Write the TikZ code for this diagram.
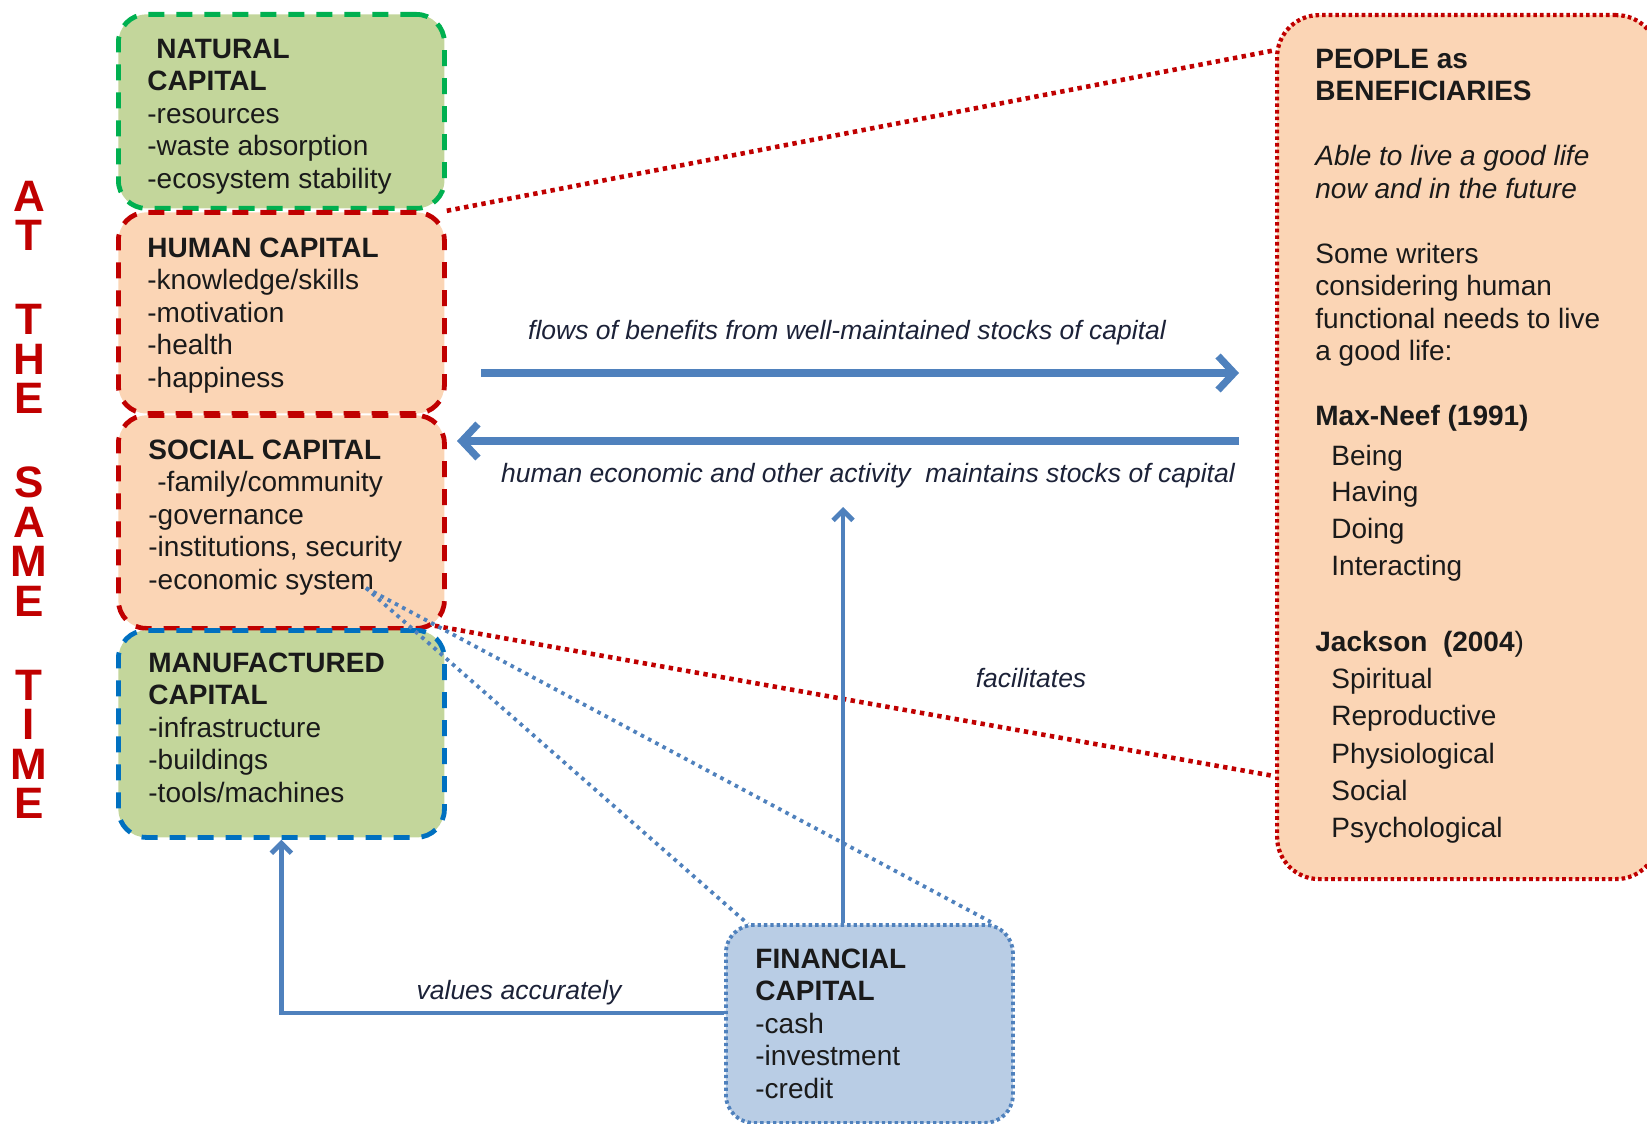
\documentclass[tikz,border=0pt]{standalone}
\usepackage{fontspec}
\setmainfont{Liberation Sans}
\usetikzlibrary{arrows.meta,calc}

\definecolor{natgreen}{HTML}{C3D69B}
\definecolor{edgegreen}{HTML}{00B050}
\definecolor{peach}{HTML}{FBD5B5}
\definecolor{darkred}{HTML}{C00000}
\definecolor{edgeblue}{HTML}{0070C0}
\definecolor{finblue}{HTML}{B9CDE5}
\definecolor{steel}{HTML}{4F81BD}
\definecolor{ink}{HTML}{1A1A1A}
\definecolor{labelink}{HTML}{1C2238}

\begin{document}
\begin{tikzpicture}[x=0.5pt,y=-0.5pt,
  capbox/.style={rectangle, anchor=north west, inner sep=0pt,
    rounded corners=14pt, line width=2.4pt, dash pattern=on 8pt off 6pt},
  boxtext/.style={anchor=north west, inner sep=0pt, align=left, text=ink,
    font=\fontsize{14}{16.25}\selectfont},
  flowlabel/.style={inner sep=0pt, text=labelink,
    font=\fontsize{13.25}{15}\selectfont\itshape},
  bigarrow/.style={steel, line width=3.6pt,
    -{Straight Barb[length=8pt,width=17pt]}},
  thinarrow/.style={steel, line width=2.4pt,
    -{Straight Barb[length=5pt,width=10pt]}},
  reddots/.style={darkred, line width=2.3pt, dash pattern=on 2.2pt off 2.2pt},
  bluedots/.style={steel, line width=1.9pt, dash pattern=on 1.8pt off 2.3pt}]

\useasboundingbox (0,0) rectangle (1647,1123);
\begin{scope}
\clip (0,0) rectangle (1647,1123);

% stocks of capital
\node[capbox, fill=natgreen, draw=edgegreen,
      minimum width=163pt, minimum height=97pt] (natural) at (116,12) {};
\node[capbox, fill=peach, draw=darkred,
      minimum width=163pt, minimum height=100.5pt] (human) at (116,210) {};
\node[capbox, fill=peach, draw=darkred,
      minimum width=163pt, minimum height=106.5pt] (social) at (116,413) {};
\node[capbox, fill=natgreen, draw=edgeblue,
      minimum width=163pt, minimum height=103.5pt] (manuf) at (116,628) {};
\node[capbox, fill=finblue, draw=steel, line width=1.9pt,
      dash pattern=on 1.7pt off 1.5pt,
      minimum width=143.5pt, minimum height=99pt] (fin) at (724,923) {};
\node[capbox, fill=peach, draw=darkred, rounded corners=21pt, line width=2.1pt,
      dash pattern=on 1.8pt off 1.5pt,
      minimum width=190.5pt, minimum height=432pt] (people) at (1275,13) {};

% box contents
\node[boxtext] (natural-t) at (147,34)
  {\rule{0pt}{12pt}\hspace*{4.5pt}\textbf{NATURAL}\\ \textbf{CAPITAL}\\
   -resources\\ -waste absorption\\ -ecosystem stability};
\node[boxtext] (human-t) at (147,233)
  {\rule{0pt}{12pt}\textbf{HUMAN CAPITAL}\\ -knowledge/skills\\
   -motivation\\ -health\\ -happiness};
\node[boxtext] (social-t) at (148,435)
  {\rule{0pt}{12pt}\textbf{SOCIAL CAPITAL}\\ \hspace*{4.5pt}-family/community\\
   -governance\\ -institutions, security\\ -economic system};
\node[boxtext] (manuf-t) at (148,648)
  {\rule{0pt}{12pt}\textbf{MANUFACTURED}\\ \textbf{CAPITAL}\\
   -infrastructure\\ -buildings\\ -tools/machines};
\node[boxtext] (fin-t) at (755,944)
  {\rule{0pt}{12pt}\textbf{FINANCIAL}\\ \textbf{CAPITAL}\\
   -cash\\ -investment\\ -credit};
\node[boxtext] (people-t) at (1315,44)
  {\rule{0pt}{12pt}\textbf{PEOPLE as}\\ \textbf{BENEFICIARIES}\\[16.25pt]
   \textit{Able to live a good life}\\ \textit{now and in the future}\\[16.25pt]
   Some writers\\ considering human\\ functional needs to live\\ a good life:\\[16.25pt]
   \textbf{Max-Neef (1991)}\\[3.75pt]
   \hspace*{8pt}Being\\[1.75pt]
   \hspace*{8pt}Having\\[2.25pt]
   \hspace*{8pt}Doing\\[2.25pt]
   \hspace*{8pt}Interacting\\[21.75pt]
   \textbf{Jackson\ \ (2004})\\[2.25pt]
   \hspace*{8pt}Spiritual\\[2.25pt]
   \hspace*{8pt}Reproductive\\[2.75pt]
   \hspace*{8pt}Physiological\\[2.25pt]
   \hspace*{8pt}Social\\[2.25pt]
   \hspace*{8pt}Psychological};

% vertical caption
\node[anchor=north, inner sep=0pt, align=center, text=darkred,
      font=\fontsize{22}{19.75}\selectfont\bfseries] (sametime) at (29,175)
  {\rule{0pt}{18pt}A\\T\\[22.25pt]T\\H\\E\\[22.25pt]S\\A\\M\\E\\[22.25pt]T\\I\\M\\E};

% connector end points
\coordinate (flowA) at (481,373);
\coordinate (flowB) at (1239,373);
\coordinate (actA) at (1239,441);
\coordinate (actB) at (457,441);
\coordinate (upTip) at (843,507);
\coordinate (econ) at (366,588);
\coordinate (valStart) at ($(fin.north west)+(0,90)$);
\coordinate (peopleTop) at ($(people.north west)+(1,37)$);
\coordinate (peopleMid) at ($(people.south west)+(0,-105)$);
\coordinate (socialCorner) at ($(social.south east)+(-12,-5)$);
\coordinate (finLeft) at ($(fin.north west)+(24,1)$);
\coordinate (finRight) at ($(fin.north east)+(-24,-1)$);

% dotted links
\draw[reddots] (natural.south east) -- (peopleTop);
\draw[reddots] (socialCorner) -- (peopleMid);
\draw[bluedots] (econ) -- (finLeft);
\draw[bluedots] (econ) -- (finRight);

% flows
\draw[bigarrow] (flowA) -- (flowB);
\draw[bigarrow] (actA) -- (actB);
\draw[thinarrow] (fin.north -| upTip) -- (upTip);
\draw[thinarrow] (valStart) -| (manuf.south);

% arrow labels
\node[flowlabel] (flow-l) at (847,333)
  {flows of benefits from well-maintained stocks of capital};
\node[flowlabel] (act-l) at (868,476)
  {human economic and other activity\ \ maintains stocks of capital};
\node[flowlabel] (fac-l) at (1031,678) {facilitates};
\node[flowlabel] (val-l) at (519,993) {values accurately};
\end{scope}
\end{tikzpicture}
\end{document}
